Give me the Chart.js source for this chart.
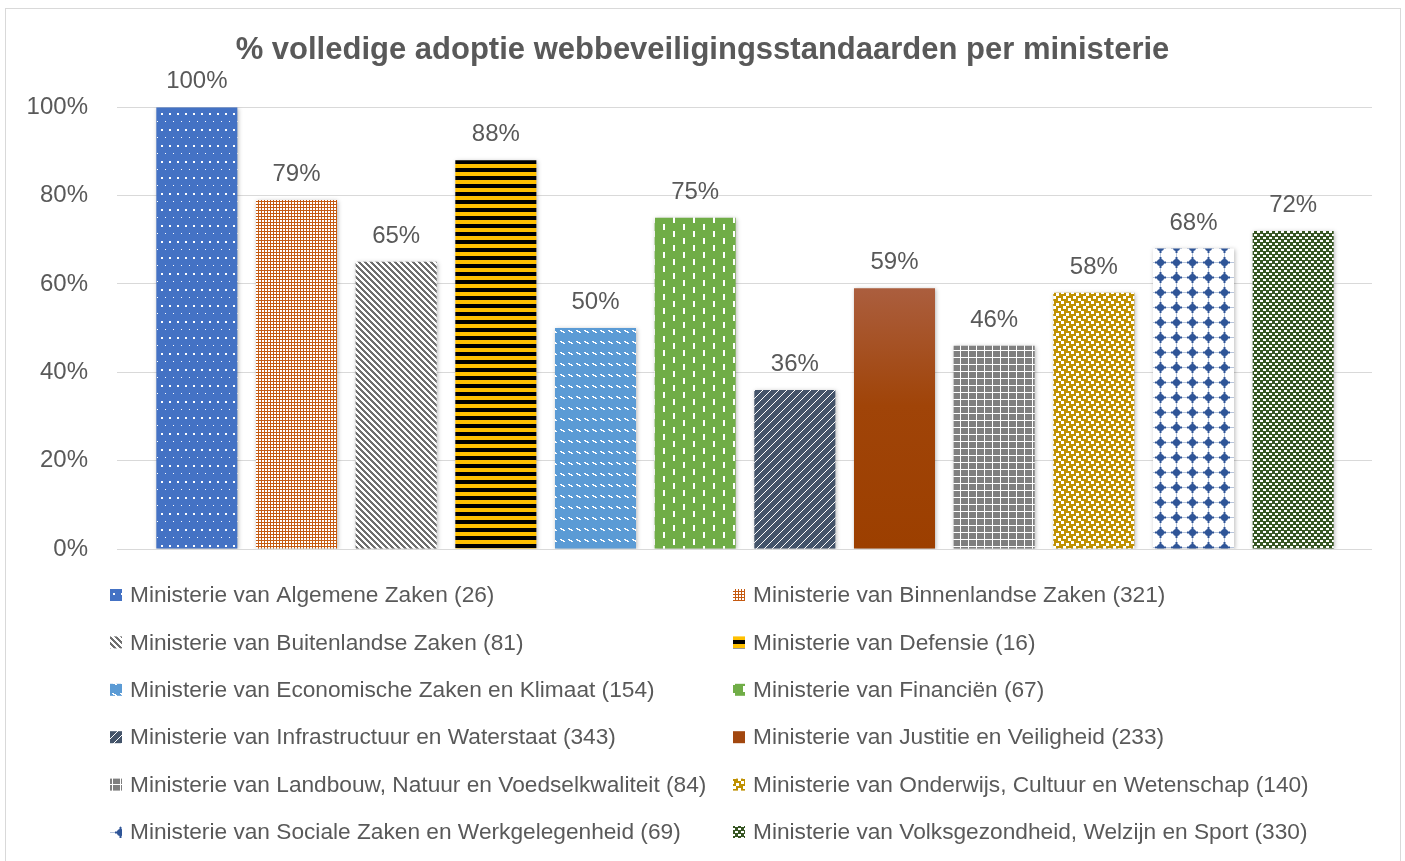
<!DOCTYPE html>
<html>
<head>
<meta charset="utf-8">
<title>% volledige adoptie webbeveiligingsstandaarden per ministerie</title>
<script src="https://cdn.jsdelivr.net/npm/chart.js@4.4.0/dist/chart.umd.min.js"></script>
<style>
  html, body { margin: 0; padding: 0; background: #fff; }
  #wrap { width: 1405px; height: 861px; }
</style>
</head>
<body>
<div id="wrap"><canvas id="grafiek"></canvas></div>
<script>
// data
var ministeries = [
  "Ministerie van Algemene Zaken",
  "Ministerie van Binnenlandse Zaken",
  "Ministerie van Buitenlandse Zaken",
  "Ministerie van Defensie",
  "Ministerie van Economische Zaken en Klimaat",
  "Ministerie van Financiën",
  "Ministerie van Infrastructuur en Waterstaat",
  "Ministerie van Justitie en Veiligheid",
  "Ministerie van Landbouw, Natuur en Voedselkwaliteit",
  "Ministerie van Onderwijs, Cultuur en Wetenschap",
  "Ministerie van Sociale Zaken en Werkgelegenheid",
  "Ministerie van Volksgezondheid, Welzijn en Sport"
];
var aantallen = [26, 321, 81, 16, 154, 67, 343, 233, 84, 140, 69, 330];
var adoptie = [100, 79, 65, 88, 50, 75, 36, 59, 46, 58, 68, 72];
var yTicks = [0, 20, 40, 60, 80, 100];
var titel = "% volledige adoptie webbeveiligingsstandaarden per ministerie";

var tekstKleur = "#595959";
var gridKleur = "#D9D9D9";
Chart.defaults.font.family = "'Liberation Sans', Arial, sans-serif";
Chart.defaults.color = tekstKleur;

// patroontegels zoals de Excel-vullingen
function tegel(w, h, achter, voor, fn, extra) {
  var c = document.createElement("canvas");
  c.width = w;
  c.height = h;
  var g = c.getContext("2d");
  g.fillStyle = achter;
  g.fillRect(0, 0, w, h);
  g.fillStyle = voor;
  if (fn) {
    for (var y = 0; y < h; y++) {
      for (var x = 0; x < w; x++) {
        if (fn(x, y)) g.fillRect(x, y, 1, 1);
      }
    }
  }
  if (extra) extra(g);
  return g.createPattern(c, "repeat");
}
function vak(x, y, sx, sy, n, m, sw, sh) {
  var dx = (x - sx + n) % n, dy = (y - sy + m) % m;
  return dx < sw && dy < (sh || sw);
}

var vullingen = [
  tegel(8, 16, "#4472C4", "#fff", function (x, y) {
    return (x >= 1 && x <= 2 && y >= 1 && y <= 2) || (x == 5 && y == 9);
  }),
  tegel(3, 3, "#C55A11", "#fff", function (x, y) {
    return x > 0 && y > 0;
  }),
  tegel(6, 6, "#fff", "#6F6F6F", function (x, y) {
    return ((x - y + 12) % 6) < 3;
  }),
  tegel(8, 8, "#FFC000", "#000", function (x, y) {
    return y < 4;
  }),
  tegel(8, 11, "#5B9BD5", "#fff", function (x, y) {
    return (y == 0 && x < 2) || (y == 1 && x >= 1 && x < 4) || (y == 2 && x >= 3 && x < 5);
  }),
  tegel(20, 14, "#70AD47", "#fff", function (x, y) {
    return ((x == 3 || x == 4) && y < 6) || ((x == 13 || x == 14) && y >= 7 && y < 13);
  }),
  tegel(8, 8, "#44546A", "#fff", function (x, y) {
    return (x + y) % 8 == 0 || ((x - y + 16) % 8 == 4 && ((x + y) % 8 == 1 || (x + y) % 8 == 7));
  }),
  null, // verloop, zie hieronder
  tegel(8, 7, "#7F7F7F", "#fff", function (x, y) {
    return x == 0 || y == 0;
  }),
  tegel(10, 10, "#BF9000", "#fff", function (x, y) {
    return vak(x, y, 1, 1, 10, 10, 3) || vak(x, y, 6, 3, 10, 10, 3) ||
      vak(x, y, 3, 6, 10, 10, 3) || vak(x, y, 8, 8, 10, 10, 3);
  }),
  tegel(16, 15, "#fff", null, null, function (g) {
    g.fillStyle = "rgba(47,85,151,0.35)";
    g.fillRect(0, 7, 16, 1);
    g.fillRect(8, 0, 1, 15);
    g.fillStyle = "#2F5597";
    g.beginPath();
    g.arc(8.5, 7.5, 3.6, 0, Math.PI * 2);
    g.fill();
    g.fillRect(3, 6.5, 11, 2);
    g.fillRect(7.5, 2, 2, 11);
  }),
  tegel(6, 6, "#375623", "#fff", function (x, y) {
    return vak(x, y, 0, 0, 6, 6, 3, 2) || vak(x, y, 3, 3, 6, 6, 3, 2);
  })
];
var legendaKleur = "#A2470F";

function barKleur(context) {
  var i = context.dataIndex;
  if (vullingen[i]) return vullingen[i];
  var chart = context.chart;
  if (!chart.chartArea) return legendaKleur;
  var yTop = chart.scales.y.getPixelForValue(adoptie[i]);
  var yBot = chart.scales.y.getPixelForValue(0);
  var gr = chart.ctx.createLinearGradient(0, yTop, 0, yBot);
  gr.addColorStop(0, "#AB5E3E");
  gr.addColorStop(0.45, "#A04408");
  gr.addColorStop(1, "#9C3F00");
  return gr;
}

// schaduw onder de staven
var schaduw = {
  id: "schaduw",
  beforeDatasetsDraw: function (chart) {
    var ctx = chart.ctx;
    ctx.save();
    ctx.shadowColor = "rgba(0,0,0,0.28)";
    ctx.shadowBlur = 4;
    ctx.shadowOffsetX = 1;
    ctx.shadowOffsetY = 1;
  },
  afterDatasetsDraw: function (chart) {
    chart.ctx.restore();
  }
};

// waardelabels boven de staven
var labels = {
  id: "labels",
  afterDatasetsDraw: function (chart) {
    var ctx = chart.ctx;
    var meta = chart.getDatasetMeta(0);
    ctx.save();
    ctx.font = "24px 'Liberation Sans', Arial, sans-serif";
    ctx.fillStyle = tekstKleur;
    ctx.textAlign = "center";
    ctx.textBaseline = "alphabetic";
    meta.data.forEach(function (el, i) {
      ctx.fillText(adoptie[i] + "%", el.x, el.y - 19);
    });
    ctx.restore();
  }
};

// legenda in twee kolommen + rand
var legenda = {
  id: "legenda",
  afterDraw: function (chart) {
    var ctx = chart.ctx;
    var top = chart.chartArea.bottom + 46;
    var stap = 47.4;
    var kolX = [110, 733];
    ctx.save();
    ctx.font = "22.7px 'Liberation Sans', Arial, sans-serif";
    ctx.textBaseline = "middle";
    ctx.textAlign = "left";
    for (var i = 0; i < ministeries.length; i++) {
      var x = kolX[i % 2];
      var y = top + Math.floor(i / 2) * stap;
      ctx.fillStyle = vullingen[i] || legendaKleur;
      ctx.fillRect(x, y - 6, 12, 12);
      ctx.fillStyle = tekstKleur;
      ctx.fillText(ministeries[i] + " (" + aantallen[i] + ")", x + 20, y + 1);
    }
    ctx.strokeStyle = gridKleur;
    ctx.lineWidth = 1;
    ctx.strokeRect(5.5, 8.5, 1395, 870);
    ctx.restore();
  }
};

var ctx = document.getElementById("grafiek").getContext("2d");
window.myBar = new Chart(ctx, {
  type: "bar",
  data: {
    labels: ministeries,
    datasets: [
      {
        label: titel,
        data: adoptie,
        backgroundColor: barKleur,
        borderWidth: 0,
        barPercentage: 0.813,
        categoryPercentage: 1
      }
    ]
  },
  options: {
    responsive: true,
    maintainAspectRatio: false,
    animation: false,
    events: [],
    layout: {
      padding: { top: 8, left: 5, right: 5, bottom: 312 }
    },
    plugins: {
      legend: { display: false },
      tooltip: { enabled: false },
      title: {
        display: true,
        text: titel,
        color: tekstKleur,
        font: { size: 31, weight: "bold" },
        padding: { top: 24, bottom: 38 }
      }
    },
    scales: {
      x: { display: false },
      y: {
        position: "left",
        min: 0,
        max: 100,
        afterBuildTicks: function (s) {
          s.ticks = yTicks.map(function (v) { return { value: v }; });
        },
        afterFit: function (s) { s.width = 142; },
        border: { display: false },
        grid: { color: gridKleur, drawTicks: true, tickLength: 30 },
        ticks: {
          padding: 29,
          color: tekstKleur,
          font: { size: 24 },
          callback: function (v) { return v + "%"; }
        }
      },
      y2: {
        position: "right",
        min: 0,
        max: 100,
        afterBuildTicks: function (s) {
          s.ticks = yTicks.map(function (v) { return { value: v }; });
        },
        afterFit: function (s) { s.width = 57; },
        border: { display: false },
        grid: { color: gridKleur, drawOnChartArea: false, drawTicks: true, tickLength: 29 },
        ticks: { display: false }
      }
    }
  },
  plugins: [schaduw, labels, legenda]
});
</script>
</body>
</html>
